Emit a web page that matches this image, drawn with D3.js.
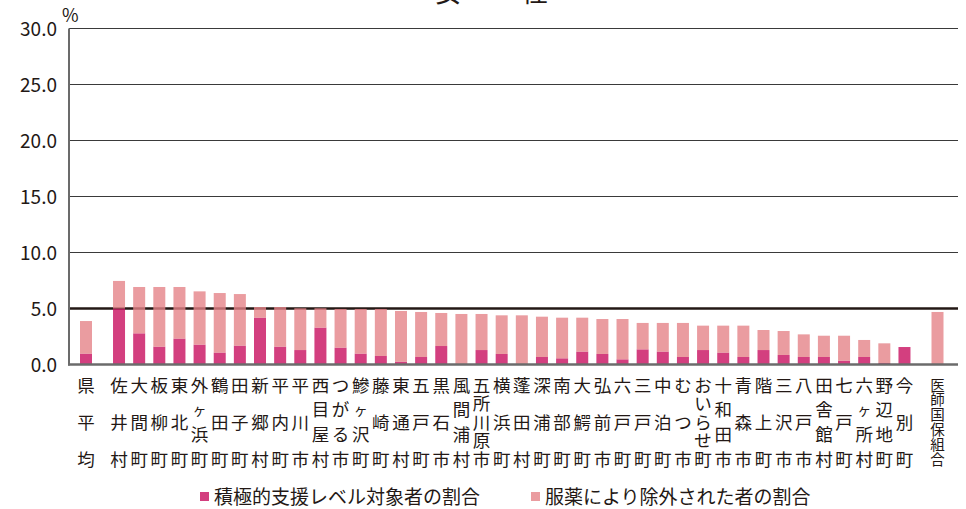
<!DOCTYPE html>
<html><head><meta charset="utf-8">
<script src="https://cdn.jsdelivr.net/npm/d3@7"></script>
<style>
body{margin:0;background:#fff;}
svg{display:block;font-family:"Noto Sans CJK JP","Noto Sans",sans-serif;}
</style></head>
<body><svg id="c" width="966" height="509"></svg>
<script>
const title = "女性";
const categories = ["県平均","佐井村","大間町","板柳町","東北町","外ヶ浜町","鶴田町","田子町","新郷村","平内町","平川市","西目屋村","つがる市","鰺ヶ沢町","藤崎町","東通村","五戸町","黒石市","風間浦村","五所川原市","横浜町","蓬田村","深浦町","南部町","大鰐町","弘前市","六戸町","三戸町","中泊町","むつ市","おいらせ町","十和田市","青森市","階上町","三沢市","八戸市","田舎館村","七戸町","六ヶ所村","野辺地町","今別町","医師国保組合"];
// 積極的支援レベル対象者の割合 (%)
const activeShare = [0.97,5.0,2.78,1.59,2.31,1.77,1.06,1.68,4.18,1.59,1.29,3.29,1.50,0.97,0.76,0.25,0.67,1.65,0.0,1.29,0.94,0.0,0.67,0.55,1.15,0.94,0.46,1.35,1.15,0.67,1.29,1.06,0.67,1.29,0.85,0.67,0.67,0.34,0.67,0.13,1.56,0.0];
// 服薬により除外された者の割合 (%)  (stacked on top)
const medicationShare = [2.91,2.46,4.14,5.33,4.61,4.76,5.32,4.61,0.95,3.54,3.73,1.73,3.46,3.99,4.20,4.53,4.02,2.95,4.51,3.22,3.45,4.39,3.60,3.63,3.03,3.12,3.60,2.36,2.56,3.04,2.18,2.41,2.80,1.79,2.14,2.02,1.90,2.23,1.52,1.76,0.0,4.69];
const seriesNames = ["積極的支援レベル対象者の割合","服薬により除外された者の割合"];
const yTicks = [0,5,10,15,20,25,30];
const referenceValue = 5;

const colors = ["#C80F5F","#E58388"];
const svg = d3.select("#c");

// slot positions: gap after first and before last category
const gap = 1.64;
const last = categories.length-1;
const slot = categories.map((c,i)=> i===0 ? 0 : (i===last ? (i-2)+2*gap : (i-1)+gap));
const x = d3.scaleLinear().domain([0, d3.max(slot)]).range([86, 937.5]);
const y = d3.scaleLinear().domain([0,30]).range([364.5, 28.5]);
const barW = 12;
const plotL = 69, plotR = 958;

// gridlines
svg.append("g").selectAll("line").data(yTicks.filter(t=>t>0 && t!==referenceValue)).join("line")
  .attr("x1",plotL).attr("x2",plotR).attr("y1",d=>y(d)).attr("y2",d=>y(d))
  .attr("stroke","#3a3a3a").attr("stroke-width",1.2);
// reference line (under bars)
svg.append("line").attr("x1",plotL).attr("x2",plotR).attr("y1",y(referenceValue)).attr("y2",y(referenceValue))
  .attr("stroke","#231815").attr("stroke-width",2.6);

// stacked bars
const rows = categories.map((c,i)=>({c, i, a:activeShare[i], m:medicationShare[i]}));
const stack = d3.stack().keys(["a","m"])(rows);
svg.append("g").selectAll("g").data(stack).join("g")
  .attr("fill",(d,k)=>colors[k]).attr("fill-opacity",0.8)
  .selectAll("rect").data(d=>d.filter(p=>p[1]-p[0]>0)).join("rect")
  .attr("x",p=>x(slot[p.data.i])-barW/2).attr("width",barW)
  .attr("y",p=>y(p[1])).attr("height",p=>y(p[0])-y(p[1]));

// axes lines
svg.append("line").attr("x1",plotL).attr("x2",plotL).attr("y1",y(30)).attr("y2",y(0)+1)
  .attr("stroke","#6b6b6b").attr("stroke-width",2);
svg.append("line").attr("x1",plotL-1).attr("x2",plotR).attr("y1",y(0)).attr("y2",y(0))
  .attr("stroke","#6b6b6b").attr("stroke-width",2.6);

// y tick labels
svg.append("g").selectAll("text").data(yTicks).join("text")
  .attr("x",57).attr("y",d=>y(d)+7).attr("text-anchor","end")
  .attr("font-size",19).attr("fill","#231815").text(d=>d.toFixed(1));
svg.append("text").attr("x",62).attr("y",22).attr("font-size",18).attr("fill","#231815").text("%");

// title (cut at top, as in the original)
svg.append("text").attr("x",435).attr("y",2).attr("font-size",26).attr("letter-spacing","61px")
  .attr("fill","#231815").text(title);

// category labels (vertical)
const yFirst = 384, yLast = 458;
const lab = svg.append("g").attr("fill","#231815");
categories.forEach((c,i)=>{
  const chars = Array.from(c);
  const n = chars.length;
  const step = (yLast-yFirst)/(n-1);
  const fs = Math.min(17.5, step*0.98);
  chars.forEach((ch,k)=>{
    let fsz = fs;
    if (ch==="ヶ") fsz = fs*0.8;
    lab.append("text").attr("x",x(slot[i])).attr("y",yFirst+step*k)
      .attr("text-anchor","middle").attr("dominant-baseline","central")
      .attr("font-size",fsz).text(ch);
  });
});

// legend
const leg = svg.append("g");
const legX = [200,531];
seriesNames.forEach((s,k)=>{
  leg.append("rect").attr("x",legX[k]).attr("y",492).attr("width",9).attr("height",9)
    .attr("fill",colors[k]).attr("fill-opacity",0.8);
  leg.append("text").attr("x",legX[k]+14).attr("y",504).attr("font-size",19)
    .attr("fill","#231815").text(s);
});
</script></body></html>
